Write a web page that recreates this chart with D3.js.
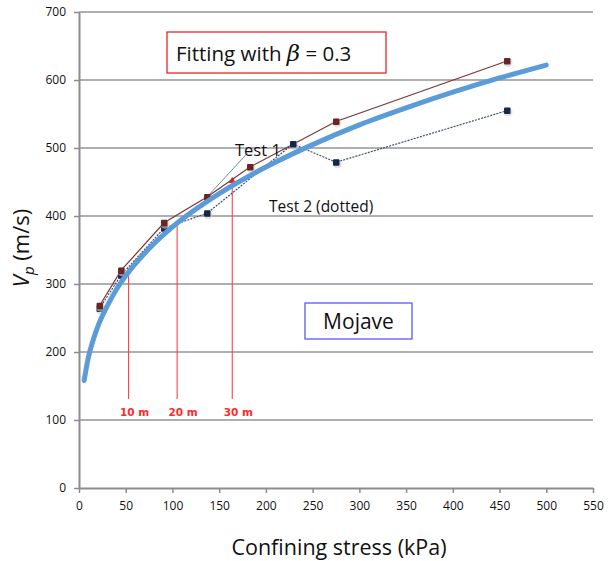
<!DOCTYPE html>
<html>
<head>
<meta charset="utf-8">
<script src="https://cdn.jsdelivr.net/npm/d3@7"></script>
<style>
  body { margin: 0; background: #fff; }
  svg { display: block; font-family: "Open Sans", "Noto Sans", sans-serif; }
</style>
</head>
<body>
<svg id="chart" width="612" height="561"></svg>
<script>
// fitted curve, Vp
var fitStress = [5.5, 10, 15, 20, 30, 40, 50, 75, 100, 150, 200, 250, 300, 350, 400, 450, 500];
var fitVp = [158, 192, 217, 237, 267, 292, 312, 352, 384, 433, 472, 505, 534, 559, 582, 603, 622];

// Test 1 (solid brown)
var test1Stress = [22, 45, 91, 137, 183, 275, 458];
var test1Vp = [268, 320, 390, 428, 472, 539, 628];

// Test 2 (dotted)
var test2Stress = [22, 45, 91, 137, 229, 275, 458];
var test2Vp = [264, 313, 382, 404, 506, 479, 555];

// depth markers
var depthLabels = ['10 m', '20 m', '30 m'];
var depthStress = [53, 105, 164];
var depthVpTop = [323, 390, 456];
var depthVpBottom = 131;

var xTicks = d3.range(0, 551, 50);
var yTicks = d3.range(0, 701, 100);

var svg = d3.select('#chart');
var x = d3.scaleLinear().domain([0, 550]).range([79, 593]);
var y = d3.scaleLinear().domain([0, 700]).range([488, 12]);

// gridlines
svg.append('g')
    .selectAll('line')
    .data(yTicks.slice(1))
    .enter()
    .append('line')
    .attr('x1', x(0))
    .attr('x2', x(550))
    .attr('y1', function (d) { return y(d); })
    .attr('y2', function (d) { return y(d); })
    .style('stroke', '#959595')
    .style('stroke-width', 1.6);

// axes
var xAxis = svg.append('g')
    .attr('transform', 'translate(0,' + y(0) + ')')
    .call(d3.axisBottom(x).tickValues(xTicks).tickSize(5).tickSizeOuter(0).tickPadding(8));
var yAxis = svg.append('g')
    .attr('transform', 'translate(' + x(0) + ',0)')
    .call(d3.axisLeft(y).tickValues(yTicks).tickSize(5).tickSizeOuter(0).tickPadding(8));
[xAxis, yAxis].forEach(function (a) {
    a.select('.domain').style('stroke', '#8c8c8c').style('stroke-width', 2);
    a.selectAll('.tick line').style('stroke', '#8c8c8c').style('stroke-width', 1.5);
    a.selectAll('.tick text')
        .style('font-size', '12px')
        .style('fill', '#111')
        .style('font-family', '"Open Sans", sans-serif');
});

// depth lines
var depth = svg.append('g');
depthStress.forEach(function (s, i) {
    depth.append('line')
        .attr('x1', x(s)).attr('x2', x(s))
        .attr('y1', y(depthVpTop[i])).attr('y2', y(depthVpBottom))
        .style('stroke', '#ff4444')
        .style('stroke-width', 1.1);
    depth.append('text')
        .attr('x', x(s) + 6)
        .attr('y', y(depthVpBottom) + 17)
        .attr('text-anchor', 'middle')
        .style('font-size', '10.5px')
        .style('font-weight', 'bold')
        .style('fill', '#ff2a2a')
        .style('font-family', '"DejaVu Sans", sans-serif')
        .text(depthLabels[i]);
});
depth.append('path')
    .attr('d', d3.symbol().type(d3.symbolTriangle).size(22)())
    .attr('transform', 'translate(' + x(depthStress[2]) + ',' + (y(depthVpTop[2]) + 3) + ')')
    .style('fill', '#ff2222');

// leader to the Test 1 label
svg.append('line')
    .attr('x1', x(137)).attr('y1', y(428))
    .attr('x2', x(180)).attr('y2', y(492))
    .style('stroke', '#6d87a8')
    .style('stroke-width', 1);

var line = d3.line()
    .x(function (d) { return x(d[0]); })
    .y(function (d) { return y(d[1]); });

var t1 = d3.zip(test1Stress, test1Vp);
var t2 = d3.zip(test2Stress, test2Vp);

svg.append('path')
    .datum(t2)
    .attr('d', line)
    .style('fill', 'none')
    .style('stroke', '#3d4d6a')
    .style('stroke-width', 1.2)
    .style('stroke-dasharray', '2,1.2');

svg.append('path')
    .datum(t1)
    .attr('d', line)
    .style('fill', 'none')
    .style('stroke', '#7a3535')
    .style('stroke-width', 1.2);

function markers(data, color) {
    var g = svg.append('g');
    g.selectAll('circle')
        .data(data)
        .enter()
        .append('circle')
        .attr('cx', function (d) { return x(d[0]) + 1; })
        .attr('cy', function (d) { return y(d[1]) + 1.5; })
        .attr('r', 4.5)
        .style('fill', '#cfcfcf')
        .style('opacity', 0.6);
    g.selectAll('rect')
        .data(data)
        .enter()
        .append('rect')
        .attr('x', function (d) { return x(d[0]) - 3; })
        .attr('y', function (d) { return y(d[1]) - 3; })
        .attr('width', 6.5)
        .attr('height', 6.5)
        .attr('rx', 1)
        .style('fill', color);
}
markers(t2, '#13284a');
markers(t1, '#6a2424');

// fitted curve
svg.append('path')
    .datum(d3.zip(fitStress, fitVp))
    .attr('d', line.curve(d3.curveMonotoneX))
    .style('fill', 'none')
    .style('stroke', '#5b9bd8')
    .style('stroke-width', 5)
    .style('stroke-linecap', 'round');

// labels
svg.append('text')
    .attr('x', 235).attr('y', 156)
    .style('font-size', '16.5px')
    .style('fill', '#111')
    .text('Test 1');
svg.append('text')
    .attr('x', 269).attr('y', 212)
    .style('font-size', '15.5px')
    .style('fill', '#111')
    .text('Test 2 (dotted)');

// title box
svg.append('rect')
    .attr('x', 167).attr('y', 32)
    .attr('width', 219).attr('height', 41)
    .style('fill', '#fff')
    .style('stroke', '#e8262a')
    .style('stroke-width', 1.3);
var title = svg.append('text')
    .attr('x', 176).attr('y', 61)
    .style('font-size', '20.5px')
    .style('fill', '#111');
title.append('tspan').text('Fitting with ');
title.append('tspan')
    .style('font-family', '"DejaVu Serif", serif')
    .style('font-style', 'italic')
    .style('font-size', '23px')
    .text('β');
title.append('tspan').text(' = 0.3');

// Mojave box
svg.append('rect')
    .attr('x', 305).attr('y', 303)
    .attr('width', 107).attr('height', 36)
    .style('fill', '#fff')
    .style('stroke', '#5a5af0')
    .style('stroke-width', 1.3);
svg.append('text')
    .attr('x', 358.5).attr('y', 329)
    .attr('text-anchor', 'middle')
    .style('font-size', '21px')
    .style('fill', '#111')
    .text('Mojave');

// axis titles
svg.append('text')
    .attr('x', 339).attr('y', 555)
    .attr('text-anchor', 'middle')
    .style('font-size', '21.5px')
    .style('fill', '#111')
    .text('Confining stress (kPa)');
var yl = svg.append('text')
    .attr('transform', 'translate(29,248) rotate(-90)')
    .attr('text-anchor', 'middle')
    .style('font-size', '22px')
    .style('fill', '#111');
yl.append('tspan').style('font-style', 'italic').text('V');
yl.append('tspan').style('font-style', 'italic').style('font-size', '15px').attr('dy', 5).text('p');
yl.append('tspan').attr('dy', -5).text(' (m/s)');
</script>
</body>
</html>
